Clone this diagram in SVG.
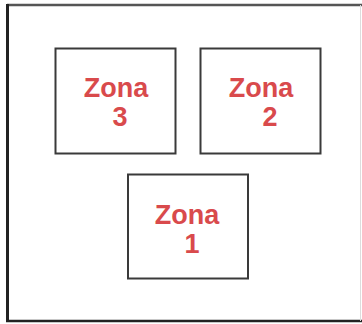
<svg xmlns="http://www.w3.org/2000/svg" width="362" height="324" viewBox="0 0 362 324">
<style>
.box{fill:#fff;stroke:#3a3a3a;stroke-width:2}
.t{font-family:"Liberation Sans",Arial,sans-serif;font-weight:bold;font-size:27px;fill:#d94a4c;text-anchor:middle}
</style>
<rect width="362" height="324" fill="#fff"/>
<g id="frame">
<line x1="7" y1="5" x2="362" y2="5" stroke="#555" stroke-width="2.5"/>
<line x1="7.5" y1="4" x2="7.5" y2="322" stroke="#222" stroke-width="3"/>
<line x1="6" y1="321" x2="362" y2="321" stroke="#222" stroke-width="2.5"/>
<line x1="360.5" y1="5" x2="360.5" y2="321" stroke="#ddd" stroke-width="1"/>
</g>
<g id="zona3">
<rect class="box" x="55.5" y="48.5" width="120" height="105"/>
<text class="t" x="116" y="97">Zona</text>
<text class="t" x="120" y="126">3</text>
</g>
<g id="zona2">
<rect class="box" x="200.5" y="48.5" width="120" height="105"/>
<text class="t" x="261" y="97">Zona</text>
<text class="t" x="270" y="126">2</text>
</g>
<g id="zona1">
<rect class="box" x="128" y="174.5" width="120" height="104"/>
<text class="t" x="187" y="224">Zona</text>
<text class="t" x="192" y="253">1</text>
</g>
<g id="connectors"></g>
</svg>
